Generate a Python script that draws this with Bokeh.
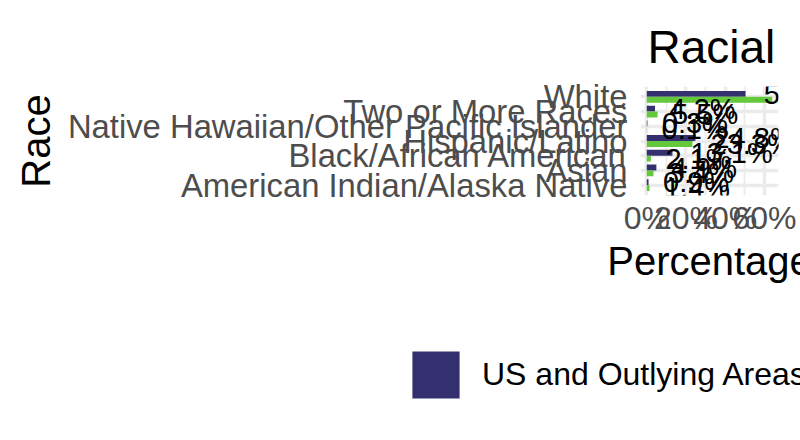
from bokeh.plotting import figure
from bokeh.layouts import column
from bokeh.models import (ColumnDataSource, FactorRange, Range1d, FixedTicker,
                          PrintfTickFormatter, Legend, LegendItem)
from bokeh.transform import dodge
from bokeh.core.properties import value
from bokeh.embed import file_html
from bokeh.resources import INLINE

# ---- data ----
races = ["American Indian/Alaska Native", "Asian", "Black/African American",
         "Hispanic/Latino", "Native Hawaiian/Other Pacific Islander",
         "Two or More Races", "White"]
us_pct = [0.9, 4.9, 13.1, 24.8, 0.3, 4.2, 50.4]
state_pct = [1.4, 3.4, 2.1, 23.3, 0.1, 5.5, 64.0]
series_names = ["US and Outlying Areas", "Massachusetts"]
x_ticks = [0, 20, 40, 60]
x_minor_ticks = [10, 30, 50, 70]
title_text = "Racial"

NAVY = "#34306F"
GREEN = "#63C83C"
FONT = "Liberation Sans"
LABEL_PX = 29


def fmt(v):
    return f"{v:.1f}%"


def text_w(s, px):
    w = {".": 0.278, "%": 0.889}
    return sum(w.get(c, 0.556) for c in s) * px


us_lbl = [fmt(v) for v in us_pct]
st_lbl = [fmt(v) for v in state_pct]
src = ColumnDataSource(dict(
    race=races, us=us_pct, st=state_pct, us_lbl=us_lbl, st_lbl=st_lbl,
    us_off=[0.22 * text_w(s, LABEL_PX) for s in us_lbl],
    st_off=[0.22 * text_w(s, LABEL_PX) for s in st_lbl],
))

xmax = max(max(us_pct), max(state_pct))
p = figure(width=800, height=330, output_backend="svg", toolbar_location=None,
           y_range=FactorRange(factors=races, range_padding=0.2,
                               range_padding_units="absolute"),
           x_range=Range1d(-0.05 * xmax, 1.05 * xmax),
           min_border_left=640, min_border_right=22, min_border_top=86,
           min_border_bottom=135)
p.frame_align = False
p.outline_line_color = None
p.background_fill_color = "white"

p.hbar(y=dodge("race", 0.2, range=p.y_range), left=0, right="us",
       height=0.4, fill_color=NAVY, line_color=None, source=src)
p.hbar(y=dodge("race", -0.2, range=p.y_range), left=0, right="st",
       height=0.4, fill_color=GREEN, line_color=None, source=src)

for col, lbl, off, dy in (("us", "us_lbl", "us_off", 0.2), ("st", "st_lbl", "st_off", -0.2)):
    p.text(x=col, y=dodge("race", dy, range=p.y_range), text=lbl, x_offset=off,
           text_align="left", text_baseline="middle", text_color="black",
           text_font=value(FONT), text_font_size=f"{LABEL_PX}px", source=src)

# axes
p.xaxis.ticker = FixedTicker(ticks=x_ticks, minor_ticks=x_minor_ticks)
p.xaxis.formatter = PrintfTickFormatter(format="%d%%")
for ax in (p.xaxis[0], p.yaxis[0]):
    ax.axis_line_color = None
    ax.major_tick_line_color = None
    ax.minor_tick_line_color = None
    ax.major_tick_in = 0
    ax.major_tick_out = 0
    ax.minor_tick_out = 0
    ax.major_label_text_font = FONT
    ax.major_label_text_font_size = "32.8px"
    ax.major_label_text_color = "#4D4D4D"
    ax.axis_label_text_font = FONT
    ax.axis_label_text_font_size = "40px"
    ax.axis_label_text_font_style = "normal"
    ax.axis_label_text_color = "black"
p.xaxis.major_label_text_font_size = "32px"
p.xaxis.axis_label = "Percentage"
p.yaxis.axis_label = "Race"
p.yaxis.major_label_standoff = 13
p.yaxis.axis_label_standoff = 7
p.xaxis.major_label_standoff = 4
p.xaxis.axis_label_standoff = 0

# grid
p.xgrid.grid_line_color = "#EBEBEB"
p.xgrid.grid_line_width = 3.5
p.xgrid.minor_grid_line_color = "#EBEBEB"
p.xgrid.minor_grid_line_width = 1.8
p.ygrid.grid_line_color = "#EBEBEB"
p.ygrid.grid_line_width = 3.5

# title
p.title.text = title_text
p.title.text_font = FONT
p.title.text_font_size = "46px"
p.title.text_font_style = "normal"
p.title.text_color = "black"
p.title.align = "left"
p.title.offset = 7
p.title.standoff = 27

# legend strip below the chart (its bars have zero thickness and lie
# outside the visible range, so only the legend keys show)
lg = figure(width=800, height=110, output_backend="svg", toolbar_location=None,
            x_axis_location=None, y_axis_location=None, min_border=0,
            x_range=Range1d(1000, 1001), y_range=FactorRange(factors=races))
lg.frame_align = False
lg.outline_line_color = None
lg.xgrid.visible = False
lg.ygrid.visible = False
k_us = lg.hbar(y="race", right="us", left=0, height=0, fill_color=NAVY,
               line_color=None, source=src)
k_st = lg.hbar(y="race", right="st", left=0, height=0, fill_color=GREEN,
               line_color=None, source=src)
legend = Legend(items=[LegendItem(label=series_names[0], renderers=[k_us]),
                       LegendItem(label=series_names[1], renderers=[k_st])],
                location=(406, 36), orientation="horizontal",
                glyph_width=59, glyph_height=59, label_height=59,
                label_standoff=17, padding=0, margin=0, spacing=40,
                border_line_color=None, background_fill_alpha=0,
                label_text_font=FONT, label_text_font_size="32px",
                label_text_color="black")
lg.add_layout(legend)

layout = column(p, lg, spacing=0)
open("out.html", "w").write(file_html(layout, INLINE))
